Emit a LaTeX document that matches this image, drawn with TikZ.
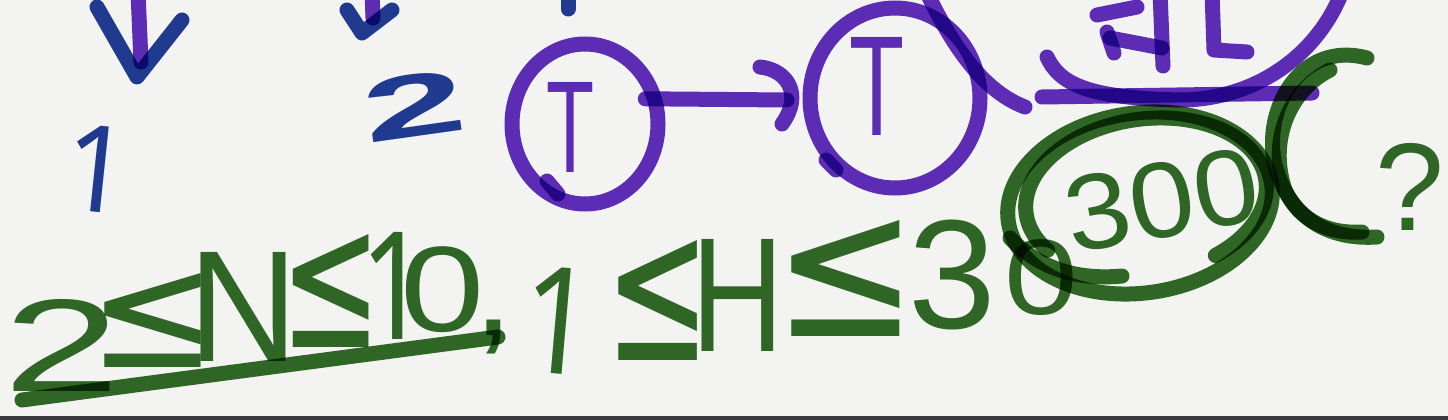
\documentclass[tikz,border=0pt]{standalone}
\usepackage{fontspec}
\setmainfont{Liberation Sans}
\newfontfamily\symf{DejaVu Sans}
\newfontfamily\onef{Noto Sans}
\usepackage{graphicx}
\usetikzlibrary{shapes.geometric,calc}
\definecolor{bg}{RGB}{243,243,242}
\definecolor{gr}{RGB}{50,107,40}
\definecolor{pu}{RGB}{97,47,190}
\definecolor{bl}{RGB}{33,61,150}
\definecolor{strip}{RGB}{58,58,60}
\tikzset{
  pen/.style={line width=15pt, line cap=round, line join=round},
  gpen/.style={pen, draw=gr},
  ppen/.style={pen, draw=pu},
  bpen/.style={pen, draw=bl},
  glyph/.style={inner sep=0pt, outer sep=0pt},
  gtext/.style={glyph, text=gr},
  ptext/.style={glyph, text=pu},
  btext/.style={glyph, text=bl},
  pcirc/.style={ellipse, draw=pu, line width=15pt, inner sep=0pt, outer sep=0pt},
}
% ink-tight glyphs: side bearings removed before scaling
\newcommand\LE{{\symf\kern-0.1em ≤\kern-0.1em}}
\newcommand\dg[1]{\kern-0.04em #1\kern-0.04em}
\newcommand\one{{\onef\bfseries\kern-0.1em 1\kern-0.17em}}
\begin{document}
\begin{tikzpicture}[x=1pt,y=-1pt]
\useasboundingbox (0,0) rectangle (1448,420);
\fill[bg] (0,0) rectangle (1448,420);
\fill[strip] (0,416) rectangle (1448,420);
\begin{scope}[blend mode=multiply]
% ---- top-left blue arrows and numbers
\draw[ppen] (138,-8) -- (141,62);
\draw[bpen] (97,7) -- (137,77) -- (182,20);
\draw[ppen] (372,-8) -- (373,18);
\draw[bpen] (347,10) -- (362,33) -- (392,10);
\draw[bpen] (568,-8) -- (568,9);
\node[btext, rotate=-6] (b1) at (93,169) {\resizebox*{34pt}{86pt}{\one}};
\node[btext, rotate=8] (b2) at (414,106) {\resizebox*{88pt}{62pt}{\bfseries\dg{2}}};
% ---- purple nodes
\node[pcirc, minimum width=146pt, minimum height=160pt] (c1) at (585,124) {};
\node[pcirc, minimum width=170pt, minimum height=180pt] (c2) at (895,98) {};
\node[ptext] (t1) at (571,127) {\resizebox*{48pt}{90pt}{T}};
\node[ptext] (t2) at (877,86) {\resizebox*{55pt}{98pt}{T}};
\draw[ppen] (547,181) -- (558,194);
\draw[ppen] (826,160) -- (836,170);
\coordinate (ah) at ([xshift=-10pt]c2.west);
\draw[ppen] ([xshift=-9pt]c1.20) -- ($(ah)+(-13,2)$);
\draw[ppen] ($(ah)+(-40,-31)$) .. controls ($(ah)+(-12,-28)$) and ($(ah)+(3,-3)$) .. ($(ah)+(-18,26)$);
% ---- purple top-right
\draw[ppen] (928,-5) .. controls (950,40) and (980,90) .. (1025,107);
\draw[ppen] (1047,57) .. controls (1060,85) and (1090,98) .. (1180,100)
  .. controls (1250,100) and (1315,60) .. (1342,-8);
\draw[ppen] (1042,97) -- (1312,93);
\draw[ppen] (1097,15) -- (1137,7);
\draw[ppen] (1107,32) -- (1114,53);
\draw[ppen] (1110,38) -- (1162,48);
\draw[ppen] (1160,-8) -- (1163,66);
\draw[ppen] (1212,-8) -- (1214,50) -- (1247,52);
% ---- green constraint text
\node[gtext] (g2) at (62,345) {\resizebox*{100pt}{92pt}{\dg{2}}};
\node[gtext] (gle1) at (153,320) {\resizebox*{98pt}{94pt}{\LE}};
\node[gtext] (gN) at (243,307) {\resizebox*{87pt}{109pt}{\kern-0.075em N\kern-0.075em}};
\node[gtext] (gle2) at (331,291) {\resizebox*{77pt}{113pt}{\LE}};
\node[gtext] (g1a) at (390,286) {\resizebox*{36pt}{107pt}{\one}};
\node[gtext] (g0a) at (443,290) {\resizebox*{72pt}{86pt}{\dg{0}}};
\node[gtext] (gcomma) at (494,337) {\resizebox*{!}{34pt}{,}};
\draw[gpen] (22,400) -- (498,337);
\node[gtext, rotate=-5] (g1b) at (554,320) {\resizebox*{38pt}{106pt}{\one}};
\node[gtext] (gle3) at (658,300) {\resizebox*{80pt}{120pt}{\LE}};
\node[gtext] (gH) at (738,295) {\resizebox*{72pt}{112pt}{\kern-0.08em H\kern-0.08em}};
\node[gtext] (gle4) at (846,278) {\resizebox*{110pt}{116pt}{\LE}};
\node[gtext] (g3) at (952,275) {\resizebox*{75pt}{110pt}{\dg{3}}};
\node[gtext] (g0b) at (1041,278) {\resizebox*{63pt}{76pt}{\dg{0}}};
% ---- green 300 with ellipse, bracket and question mark
\node[gtext, rotate=10] (g300) at (1162,200) {\resizebox*{185pt}{76pt}{\dg{300}}};
\draw[gpen, rotate around={8:(1140,203)}] (1140,203) ellipse [x radius=133, y radius=90];
\draw[gpen, rotate around={8:(1146,197)}] ($(1146,197)+(150:121 and 78)$)
  arc[start angle=150, end angle=420, x radius=121, y radius=78];
\draw[gpen] (1010,238) .. controls (1040,270) and (1080,280) .. (1122,276);
\draw[gpen] (1367,58) .. controls (1300,40) and (1262,110) .. (1275,165)
  .. controls (1290,220) and (1330,240) .. (1377,237);
\draw[gpen] (1330,70) .. controls (1290,90) and (1268,140) .. (1285,190)
  .. controls (1300,222) and (1330,234) .. (1362,232);
\node[gtext] (gq) at (1410,187) {\resizebox*{54pt}{87pt}{\kern-0.06em ?\kern-0.06em}};
\end{scope}
\end{tikzpicture}
\end{document}
